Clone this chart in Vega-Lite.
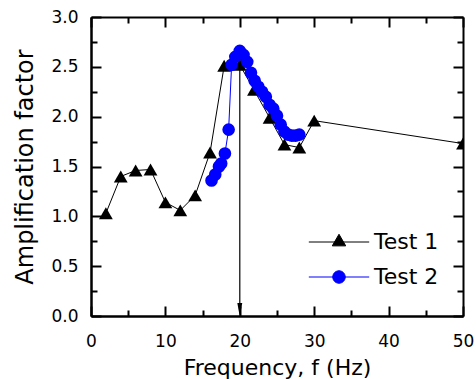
{
  "$schema": "https://vega.github.io/schema/vega-lite/v6.json",
  "width": 372,
  "height": 299,
  "autosize": "none",
  "padding": {"left": 91, "top": 17, "right": 13, "bottom": 63},
  "background": "white",
  "config": {
    "font": "DejaVu Sans",
    "view": {"stroke": null},
    "axis": {
      "grid": false,
      "domainColor": "black",
      "domainWidth": 2,
      "tickColor": "black",
      "tickWidth": 2,
      "labelColor": "black",
      "titleColor": "black",
      "titleFontWeight": "normal",
      "labelFont": "DejaVu Sans",
      "titleFont": "DejaVu Sans"
    },
    "legend": {
      "labelFontSize": 22,
      "labelColor": "black",
      "labelFont": "DejaVu Sans"
    }
  },
  "datasets": {
    "meas": [
      {"f": 2, "a": 1.03, "series": "Test 1"},
      {"f": 4, "a": 1.40, "series": "Test 1"},
      {"f": 6, "a": 1.46, "series": "Test 1"},
      {"f": 8, "a": 1.47, "series": "Test 1"},
      {"f": 10, "a": 1.14, "series": "Test 1"},
      {"f": 12, "a": 1.06, "series": "Test 1"},
      {"f": 14, "a": 1.21, "series": "Test 1"},
      {"f": 16, "a": 1.64, "series": "Test 1"},
      {"f": 17.9, "a": 2.51, "series": "Test 1"},
      {"f": 20, "a": 2.52, "series": "Test 1"},
      {"f": 21.9, "a": 2.27, "series": "Test 1"},
      {"f": 24, "a": 1.99, "series": "Test 1"},
      {"f": 26, "a": 1.72, "series": "Test 1"},
      {"f": 28, "a": 1.69, "series": "Test 1"},
      {"f": 30, "a": 1.96, "series": "Test 1"},
      {"f": 50, "a": 1.73, "series": "Test 1"},
      {"f": 16.2, "a": 1.36, "series": "Test 2"},
      {"f": 16.7, "a": 1.42, "series": "Test 2"},
      {"f": 17.2, "a": 1.50, "series": "Test 2"},
      {"f": 17.5, "a": 1.53, "series": "Test 2"},
      {"f": 18.0, "a": 1.63, "series": "Test 2"},
      {"f": 18.5, "a": 1.87, "series": "Test 2"},
      {"f": 18.9, "a": 2.52, "series": "Test 2"},
      {"f": 19.4, "a": 2.60, "series": "Test 2"},
      {"f": 20.0, "a": 2.66, "series": "Test 2"},
      {"f": 20.5, "a": 2.62, "series": "Test 2"},
      {"f": 21.0, "a": 2.55, "series": "Test 2"},
      {"f": 21.5, "a": 2.44, "series": "Test 2"},
      {"f": 22.0, "a": 2.36, "series": "Test 2"},
      {"f": 22.5, "a": 2.30, "series": "Test 2"},
      {"f": 23.0, "a": 2.25, "series": "Test 2"},
      {"f": 23.5, "a": 2.20, "series": "Test 2"},
      {"f": 24.0, "a": 2.12, "series": "Test 2"},
      {"f": 24.5, "a": 2.08, "series": "Test 2"},
      {"f": 25.0, "a": 2.01, "series": "Test 2"},
      {"f": 25.5, "a": 1.92, "series": "Test 2"},
      {"f": 26.0, "a": 1.85, "series": "Test 2"},
      {"f": 26.5, "a": 1.82, "series": "Test 2"},
      {"f": 27.0, "a": 1.81, "series": "Test 2"},
      {"f": 27.5, "a": 1.81, "series": "Test 2"},
      {"f": 28.0, "a": 1.82, "series": "Test 2"}
    ],
    "arrow": [
      {"f": 20, "top": 2.65, "bottom": 0.08, "head": 0.06}
    ]
  },
  "layer": [
    {
      "data": {"name": "meas"},
      "transform": [{"filter": "datum.series === 'Test 1'"}],
      "mark": {"type": "line", "strokeWidth": 1, "color": "black", "clip": true},
      "encoding": {
        "x": {
          "field": "f", "type": "quantitative",
          "scale": {"domain": [0, 50], "nice": false},
          "axis": {
            "orient": "bottom",
            "title": "Frequency, f (Hz)",
            "titleFontSize": 22,
            "titlePadding": 8,
            "values": [0, 10, 20, 30, 40, 50],
            "labelFontSize": 17,
            "labelPadding": 17,
            "labelFlush": false,
            "ticks": false
          }
        },
        "y": {
          "field": "a", "type": "quantitative",
          "scale": {"domain": [0, 3], "nice": false},
          "axis": {
            "orient": "left",
            "title": "Amplification factor",
            "titleFontSize": 24,
            "titlePadding": 13,
            "values": [0, 0.5, 1, 1.5, 2, 2.5, 3],
            "format": ".1f",
            "labelFontSize": 17,
            "labelPadding": 13,
            "labelFlush": false,
            "ticks": false
          }
        }
      }
    },
    {
      "data": {"name": "arrow"},
      "mark": {"type": "rule", "color": "black", "strokeWidth": 1.2},
      "encoding": {
        "x": {
          "field": "f", "type": "quantitative",
          "axis": {
            "orient": "top",
            "offset": -299,
            "title": null,
            "labels": false,
            "ticks": true,
            "tickSize": {"condition": {"test": "datum.value % 10 === 0", "value": 10}, "value": 6},
            "values": [0, 5, 10, 15, 20, 25, 30, 35, 40, 45, 50]
          }
        },
        "y": {
          "field": "top", "type": "quantitative",
          "axis": {
            "orient": "right",
            "offset": -372,
            "title": null,
            "labels": false,
            "ticks": true,
            "tickSize": {"condition": {"test": "datum.value % 0.5 === 0", "value": 10}, "value": 6},
            "values": [0, 0.25, 0.5, 0.75, 1, 1.25, 1.5, 1.75, 2, 2.25, 2.5, 2.75, 3]
          }
        },
        "y2": {"field": "bottom"}
      }
    },
    {
      "data": {"name": "arrow"},
      "mark": {"type": "point", "filled": true, "color": "black", "opacity": 1, "size": 196, "shape": "M-0.35,-1L0.35,-1L0,1Z"},
      "encoding": {
        "x": {
          "field": "f", "type": "quantitative",
          "axis": {
            "orient": "bottom",
            "offset": -299,
            "title": null,
            "labels": false,
            "ticks": true,
            "tickSize": {"condition": {"test": "datum.value % 10 === 0", "value": 10}, "value": 6},
            "values": [0, 5, 10, 15, 20, 25, 30, 35, 40, 45, 50]
          }
        },
        "y": {
          "field": "head", "type": "quantitative",
          "axis": {
            "orient": "left",
            "offset": -372,
            "title": null,
            "labels": false,
            "ticks": true,
            "tickSize": {"condition": {"test": "datum.value % 0.5 === 0", "value": 10}, "value": 6},
            "values": [0, 0.25, 0.5, 0.75, 1, 1.25, 1.5, 1.75, 2, 2.25, 2.5, 2.75, 3]
          }
        }
      }
    },
    {
      "data": {"name": "meas"},
      "transform": [{"filter": "datum.series === 'Test 2'"}],
      "mark": {"type": "line", "strokeWidth": 1, "color": "#0000ff", "clip": true},
      "encoding": {
        "x": {"field": "f", "type": "quantitative", "axis": null},
        "y": {"field": "a", "type": "quantitative", "axis": null}
      }
    },
    {
      "data": {"name": "meas"},
      "transform": [{"filter": "datum.series === 'Test 1'"}],
      "mark": {"type": "point", "filled": true, "opacity": 1, "size": 190, "shape": "triangle-up", "color": "black", "clip": true},
      "encoding": {
        "x": {"field": "f", "type": "quantitative", "axis": null},
        "y": {"field": "a", "type": "quantitative", "axis": null}
      }
    },
    {
      "data": {"name": "meas"},
      "transform": [{"filter": "datum.series === 'Test 2'"}],
      "mark": {"type": "point", "filled": true, "opacity": 1, "size": 160, "shape": "circle", "color": "#0000ff", "clip": true},
      "encoding": {
        "x": {"field": "f", "type": "quantitative", "axis": null},
        "y": {"field": "a", "type": "quantitative", "axis": null}
      }
    },
    {
      "data": {"name": "meas"},
      "transform": [{"filter": "datum.f < 0"}],
      "mark": {"type": "point", "filled": true, "opacity": 1, "strokeWidth": 1},
      "encoding": {
        "x": {"field": "f", "type": "quantitative", "axis": null},
        "y": {"field": "a", "type": "quantitative", "axis": null},
        "color": {
          "field": "series", "type": "nominal",
          "scale": {"domain": ["Test 1", "Test 2"], "range": ["black", "#0000ff"]},
          "legend": {
            "title": null,
            "orient": "none",
            "legendX": 237,
            "legendY": 214,
            "padding": 0,
            "labelOffset": 24,
            "rowPadding": 13,
            "symbolSize": 180,
            "symbolStrokeWidth": 1,
            "symbolOpacity": 1
          }
        },
        "stroke": {
          "field": "series", "type": "nominal",
          "scale": {"domain": ["Test 1", "Test 2"], "range": ["black", "#0000ff"]},
          "legend": {
            "title": null,
            "orient": "none",
            "legendX": 237,
            "legendY": 214,
            "padding": 0,
            "labelOffset": 24,
            "rowPadding": 13,
            "symbolSize": 180,
            "symbolStrokeWidth": 1,
            "symbolOpacity": 1
          }
        },
        "shape": {
          "field": "series", "type": "nominal",
          "scale": {
            "domain": ["Test 1", "Test 2"],
            "range": ["M-4.5,0H4.5M0,-1.155L-1,0.577L1,0.577Z", "M-4.5,0H4.5M0.93,0A0.93,0.93,0,1,1,-0.93,0A0.93,0.93,0,1,1,0.93,0Z"]
          },
          "legend": {
            "title": null,
            "orient": "none",
            "legendX": 237,
            "legendY": 214,
            "padding": 0,
            "labelOffset": 24,
            "rowPadding": 13,
            "symbolSize": 180,
            "symbolStrokeWidth": 1,
            "symbolOpacity": 1
          }
        }
      }
    }
  ],
  "resolve": {"axis": {"x": "independent", "y": "independent"}}
}
